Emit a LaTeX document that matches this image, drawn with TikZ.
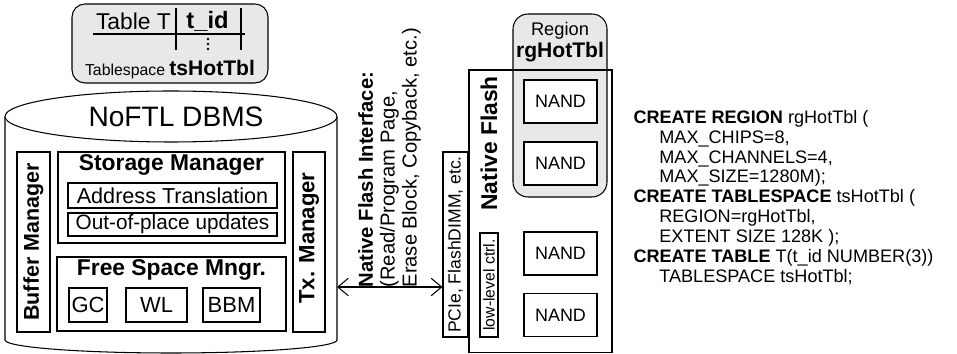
\documentclass[tikz,border=0pt]{standalone}
\usepackage{fontspec}
\setmainfont{Liberation Sans}
\usetikzlibrary{arrows.meta}
\newcommand{\fsz}[1]{\fontsize{#1}{#1}\selectfont}

\begin{document}
\begin{tikzpicture}[x=0.02cm,y=-0.02cm,line width=0.6pt,
    box/.style={draw,fill=white,inner sep=0pt},
    gbox/.style={draw,fill=gray!18,rounded corners=0.26cm,inner sep=0pt},
    vlabel/.style={rotate=90,inner sep=0pt},
    iface/.style={{Straight Barb[length=6pt,width=10pt]}-{Straight Barb[length=6pt,width=10pt]}}]
  \useasboundingbox (0,0) rectangle (957,354);

  %%%%% table T %%%%%
  \node[gbox,minimum width=3.92cm,minimum height=1.58cm] (tbl) at (170,43.5) {};
  \node[font=\fsz{13}] (tname) at (133.5,21) {Table T};
  \node[font=\bfseries\fsz{13.5}] (tcol) at (207.5,21) {t\_id};
  \draw (93,34) -- (245,34);
  \draw (176,8) -- (176,50);
  \draw (241,8) -- (241,50);
  \foreach \y in {39,44,49}
    \fill (208,\y) circle (0.75pt);
  \node[font=\fsz{9}] (tspace) at (170,70) {Tablespace {\bfseries\fsz{12}tsHotTbl}};

  %%%%% DBMS %%%%%
  \draw (5,117) -- (5,340) arc[start angle=180,end angle=0,x radius=166,y radius=13] -- (337,117);
  \draw (171,116.5) ellipse [x radius=166,y radius=25.5];
  \coordinate (dbmsR) at (337,287);
  \node[font=\fsz{16}] (dbmsname) at (176,117) {NoFTL DBMS};

  \node[box,minimum width=0.66cm,minimum height=3.6cm] (buf) at (33.5,242) {};
  \node[vlabel,font=\bfseries\fsz{12.2}] (buftxt) at (buf) {Buffer Manager};
  \node[box,minimum width=0.64cm,minimum height=3.6cm] (tx) at (309,242) {};
  \node[vlabel,font=\bfseries\fsz{12.6}] (txtxt) at (309,238) {Tx. Manager};

  \node[box,minimum width=4.54cm,minimum height=1.82cm] (stor) at (171.5,197.5) {};
  \node[font=\bfseries\fsz{13}] (stortxt) at (171.5,165) {Storage Manager};
  \node[box,minimum width=4.18cm,minimum height=0.5cm,font=\fsz{12.3}] (addr) at (172.5,195.5) {Address Translation};
  \node[box,minimum width=4.18cm,minimum height=0.46cm,font=\fsz{11.8}] (oop) at (172.5,224.5) {Out-of-place updates};

  \node[box,minimum width=4.58cm,minimum height=1.48cm] (free) at (171.5,294) {};
  \node[font=\bfseries\fsz{13}] (freetxt) at (171.5,270) {Free Space Mngr.};
  \node[box,minimum width=0.76cm,minimum height=0.68cm,font=\fsz{12.5}] (gc) at (88,305) {GC};
  \node[box,minimum width=1.22cm,minimum height=0.68cm,font=\fsz{12.5}] (wl) at (156.5,305) {WL};
  \node[box,minimum width=1.14cm,minimum height=0.68cm,font=\fsz{12.5}] (bbm) at (231.5,305) {BBM};

  %%%%% interface %%%%%
  \node[box,minimum width=0.5cm,minimum height=3.7cm] (pcie) at (455.5,244.5) {};
  \node[vlabel,font=\fsz{10}] (pcietxt) at (pcie) {PCIe, FlashDIMM, etc.};
  \draw[iface] (dbmsR) -- (dbmsR -| pcie.west);
  \node[vlabel,anchor=west,align=left,font=\fontsize{11.5}{12.5}\selectfont] (nfi) at (389.5,288)
    {\textbf{Native Flash Interface:}\\(Read/Program Page,\\Erase Block, Copyback, etc.)};

  %%%%% native flash %%%%%
  \node[gbox,rounded corners=0.3cm,minimum width=1.88cm,minimum height=3.66cm] (region) at (560,105.5) {};
  \node[font=\fsz{10.4}] (regtxt) at (560,31) {Region};
  \node[font=\bfseries\fsz{12}] (regname) at (560,52) {rgHotTbl};
  \node[draw,inner sep=0pt,minimum width=2.86cm,minimum height=5.66cm] (flash) at (540.5,211.5) {};
  \node[vlabel,font=\bfseries\fsz{13}] (flashtxt) at (489,143.5) {Native Flash};
  \node[box,minimum width=0.36cm,minimum height=2.08cm] (llc) at (489,285) {};
  \node[vlabel,font=\fsz{9}] (llctxt) at (llc) {low-level ctrl.};
  \foreach \n/\y in {1/101.5,2/163.5,3/253.5,4/315}
    \node[box,minimum width=1.46cm,minimum height=0.86cm,font=\fsz{10.2}] (nand\n) at (560.5,\y) {NAND};

  %%%%% DDL %%%%%
  \node[anchor=west,align=left,inner sep=0pt,font=\fontsize{10.3}{11.35}\selectfont] (ddl) at (633,197.5)
    {\textbf{CREATE REGION} rgHotTbl (\\
     \hspace*{14.7pt}MAX\_CHIPS=8,\\
     \hspace*{14.7pt}MAX\_CHANNELS=4,\\
     \hspace*{14.7pt}MAX\_SIZE=1280M);\\
     \textbf{CREATE TABLESPACE} tsHotTbl (\\
     \hspace*{14.7pt}REGION=rgHotTbl,\\
     \hspace*{14.7pt}EXTENT SIZE 128K );\\
     \textbf{CREATE TABLE} T(t\_id NUMBER(3))\\
     \hspace*{14.7pt}TABLESPACE tsHotTbl;};
\end{tikzpicture}
\end{document}
